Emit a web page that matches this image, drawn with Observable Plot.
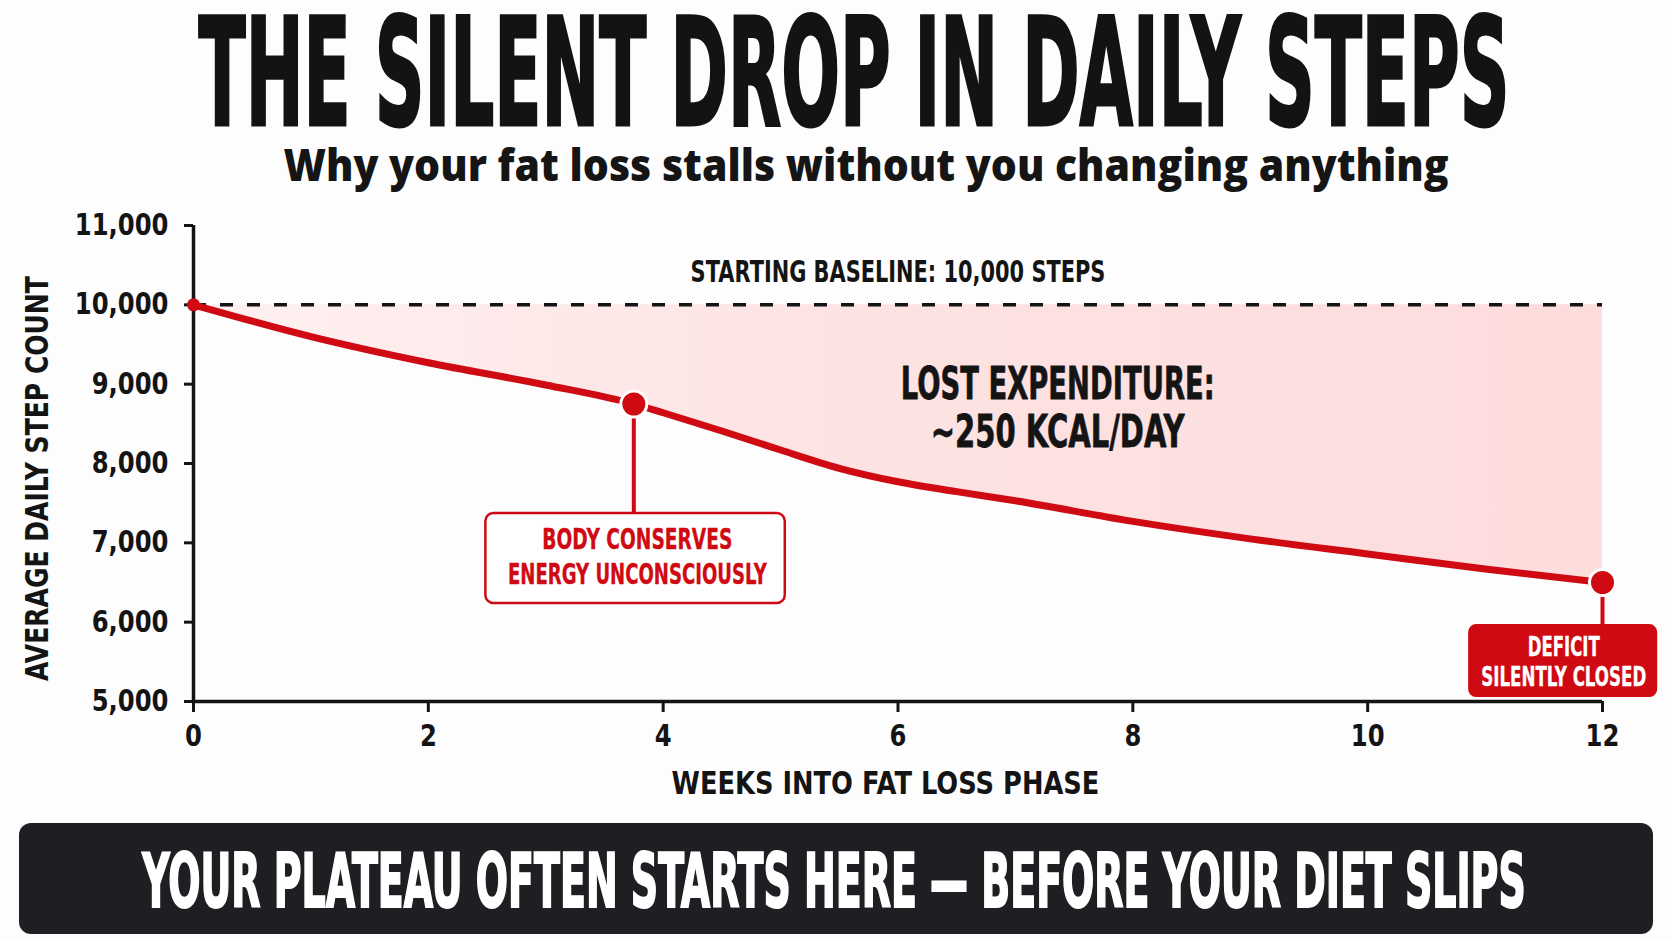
<!DOCTYPE html>
<html>
<head>
<meta charset="utf-8">
<script src="https://cdn.jsdelivr.net/npm/d3@7"></script>
<script src="https://cdn.jsdelivr.net/npm/@observablehq/plot@0.6"></script>
<style>
  html, body { margin: 0; padding: 0; background: #fdfdfd; }
  #page { position: relative; width: 1672px; height: 941px; overflow: hidden; }
  .fit { position: absolute; white-space: nowrap; width: max-content; line-height: 1; transform-origin: 50% 50%; }
  #title { font-family: 'Liberation Sans Narrow', 'DejaVu Sans', 'Liberation Sans', sans-serif; font-stretch: condensed;
           font-weight: 700; font-size: 90px; line-height: 0.8; color: #131313; -webkit-text-stroke: 1.8px #131313; top: 38px; }
  #subtitle { font-family: 'Open Sans', 'Noto Sans', sans-serif; font-weight: 800; font-size: 44.5px;
              color: #151515; top: 142px; }
  #chart { position: absolute; left: 0; top: 190px; }
  #banner { position: absolute; left: 19px; top: 823px; width: 1634px; height: 111px;
            border-radius: 12px; background: #1e1f22; }
  #bannerText { font-family: 'Liberation Sans Narrow', 'DejaVu Sans', 'Liberation Sans', sans-serif; font-stretch: condensed;
                font-weight: 700; font-size: 40px; color: #ffffff; -webkit-text-stroke: 1.1px #ffffff; top: 861px; }
</style>
</head>
<body>
<div id="page">
  <div id="title" class="fit">THE SILENT DROP IN DAILY STEPS</div>
  <div id="subtitle" class="fit">Why your fat loss stalls without you changing anything</div>
  <div id="chart"></div>
  <div id="banner"></div>
  <div id="bannerText" class="fit">YOUR PLATEAU OFTEN STARTS HERE — BEFORE YOUR DIET SLIPS</div>
</div>
<script>
// ---------- data ----------
const weeks = [0, 1, 2, 3, 3.75, 4, 4.5, 5, 5.5, 6, 6.5, 7, 8, 9, 10, 11, 12];
const steps = [10000, 9600, 9270, 8990, 8750, 8640, 8410, 8170, 7940, 7770, 7645, 7530, 7270, 7050, 6860, 6670, 6500];
const baselineSteps = 10000;
const xTicks = [0, 2, 4, 6, 8, 10, 12];
const yTicks = [5000, 6000, 7000, 8000, 9000, 10000, 11000];
const highlightWeeks = [3.75, 12];

const baselineLabel = "STARTING BASELINE: 10,000 STEPS";
const xLabel = "WEEKS INTO FAT LOSS PHASE";
const yLabel = "AVERAGE DAILY STEP COUNT";
const lostLines = ["LOST EXPENDITURE:", "~250 KCAL/DAY"];
const lostAnchor = {x: 7.36, y: [8996, 8391]};
const callout1Lines = ["BODY CONSERVES", "ENERGY UNCONSCIOUSLY"];
const callout1Box = {x1: 2.49, x2: 5.04, y1: 6235, y2: 7370, tx: 3.78, ty: [7029, 6588]};
const callout2Lines = ["DEFICIT", "SILENTLY CLOSED"];
const callout2Box = {x1: 10.86, x2: 12.47, y1: 5050, y2: 5970, tx: 11.67, ty: [5680, 5302]};

const RED = "#cf0a12";
const INK = "#141414";
const NARROW = "'Liberation Sans Narrow', 'DejaVu Sans', 'Liberation Sans', sans-serif";

const series = weeks.map((w, i) => ({week: w, steps: steps[i]}));
const highlights = series.filter(d => highlightWeeks.includes(d.week));
const startPoint = series.filter(d => d.week === 0);

const lostData = lostLines.map((t, i) => ({t, x: lostAnchor.x, y: lostAnchor.y[i]}));
const c1Data = callout1Lines.map((t, i) => ({t, x: callout1Box.tx, y: callout1Box.ty[i]}));
const c2Data = callout2Lines.map((t, i) => ({t, x: callout2Box.tx, y: callout2Box.ty[i]}));

const chart = Plot.plot({
  width: 1672,
  height: 625,
  marginLeft: 193,
  marginRight: 70,
  marginTop: 35,
  marginBottom: 114,
  style: {fontFamily: NARROW, fontSize: "30px", fontWeight: "bold", color: INK, background: "transparent", overflow: "visible"},
  x: {domain: [0, 12]},
  y: {domain: [5000, 11000]},
  marks: [
    Plot.areaY(series, {x: "week", y1: "steps", y2: () => baselineSteps, curve: "monotone-x", fill: "url(#lostGrad)"}),
    Plot.ruleY([baselineSteps], {x1: 0, x2: 12, stroke: INK, strokeWidth: 3.5, strokeDasharray: "13,14"}),
    Plot.axisY({ticks: yTicks, tickFormat: d3.format(","), tickSize: 9, tickPadding: 16, label: null, strokeWidth: 3, fontSize: 30}),
    Plot.axisX({ticks: xTicks, tickSize: 11, tickPadding: 12, label: null, strokeWidth: 3, fontSize: 30}),
    Plot.ruleX([0], {y1: 5000, y2: 11000, stroke: INK, strokeWidth: 3.5}),
    Plot.ruleY([5000], {x1: 0, x2: 12, stroke: INK, strokeWidth: 3.5}),
    Plot.line(series, {x: "week", y: "steps", curve: "monotone-x", stroke: RED, strokeWidth: 7, strokeLinecap: "round"}),
    // connectors
    Plot.ruleX([callout1Box], {x: () => highlightWeeks[0], y1: () => steps[weeks.indexOf(highlightWeeks[0])], y2: d => d.y2, stroke: RED, strokeWidth: 4}),
    Plot.ruleX([callout2Box], {x: () => highlightWeeks[1], y1: () => steps[weeks.indexOf(highlightWeeks[1])], y2: d => d.y2, stroke: RED, strokeWidth: 4}),
    // callout boxes
    Plot.rect([callout1Box], {x1: "x1", x2: "x2", y1: "y1", y2: "y2", fill: "#ffffff", stroke: RED, strokeWidth: 2.5}),
    Plot.rect([callout2Box], {x1: "x1", x2: "x2", y1: "y1", y2: "y2", fill: RED}),
    // dots
    Plot.dot(startPoint, {x: "week", y: "steps", r: 6.5, fill: RED}),
    Plot.dot(highlights, {x: "week", y: "steps", r: 13, fill: RED, stroke: "#ffffff", strokeWidth: 3}),
    // texts
    Plot.text([baselineLabel], {x: () => 6, y: () => baselineSteps, text: d => d, dy: -32, lineAnchor: "middle", fontSize: 30, fill: INK}),
    Plot.text(lostData, {x: "x", y: "y", text: "t", lineAnchor: "middle", fontSize: 45, fill: INK, stroke: INK, strokeWidth: 0.8}),
    Plot.text(c1Data, {x: "x", y: "y", text: "t", lineAnchor: "middle", fontSize: 28, fill: RED, stroke: RED, strokeWidth: 0.4}),
    Plot.text(c2Data, {x: "x", y: "y", text: "t", lineAnchor: "middle", fontSize: 27, fill: "#ffffff", stroke: "#ffffff", strokeWidth: 0.4}),
    Plot.text([xLabel], {frameAnchor: "bottom", text: d => d, dx: -12.5, dy: 82, lineAnchor: "middle", fontSize: 32, fill: INK}),
    Plot.text([yLabel], {frameAnchor: "left", text: d => d, rotate: -90, dx: -156, dy: 15, textAnchor: "middle", lineAnchor: "middle", fontSize: 32, fill: INK})
  ]
});

// gradient for the lost-expenditure area
const NS = "http://www.w3.org/2000/svg";
const defs = document.createElementNS(NS, "defs");
const grad = document.createElementNS(NS, "linearGradient");
grad.setAttribute("id", "lostGrad");
grad.setAttribute("gradientUnits", "userSpaceOnUse");
grad.setAttribute("x1", "193"); grad.setAttribute("x2", "1602");
grad.setAttribute("y1", "0"); grad.setAttribute("y2", "0");
[["0", "#fff1f1"], ["0.45", "#fde3e3"], ["1", "#fddcdc"]].forEach(([o, c]) => {
  const s = document.createElementNS(NS, "stop");
  s.setAttribute("offset", o); s.setAttribute("stop-color", c);
  grad.appendChild(s);
});
defs.appendChild(grad);
chart.insertBefore(defs, chart.firstChild);

// rounded callout boxes
chart.querySelectorAll('g[aria-label="rect"] rect').forEach(r => { r.setAttribute("rx", 8); r.setAttribute("ry", 8); });

document.getElementById("chart").appendChild(chart);

// condense SVG texts to the reference widths (scale along the text direction)
function squeeze(t, s) {
  t.setAttribute("transform", (t.getAttribute("transform") || "") + ` scale(${s},1)`);
}
const widths = new Map([
  [baselineLabel, 415], [lostLines[0], 314], [lostLines[1], 254],
  [callout1Lines[0], 190], [callout1Lines[1], 259],
  [callout2Lines[0], 72], [callout2Lines[1], 165],
  [xLabel, 428], [yLabel, 405]
]);
chart.querySelectorAll("text").forEach(t => {
  const w = widths.get(t.textContent);
  if (w) squeeze(t, w / t.getComputedTextLength());
});
chart.querySelectorAll('g[aria-label$="tick label"] text').forEach(t => squeeze(t, 0.81));

// fit HTML titles
function fit(id, cx, w, sy) {
  const el = document.getElementById(id);
  el.style.left = cx + "px";
  const nat = el.offsetWidth;
  el.style.transform = `translateX(-50%) scale(${w / nat}, ${sy})`;
}
fit("title", 853.5, 1311, 149 / 90);
fit("subtitle", 865.5, 1165, 1);
fit("bannerText", 834, 1383, 75 / 40);
</script>
</body>
</html>
